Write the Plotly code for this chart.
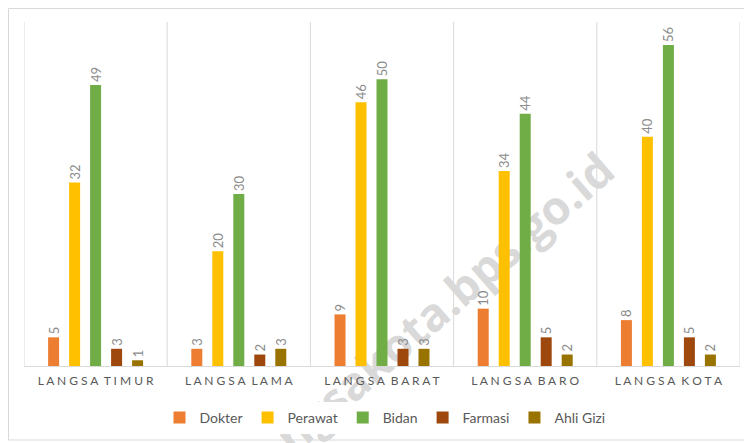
import plotly.graph_objects as go

categories = ["LANGSA TIMUR", "LANGSA LAMA", "LANGSA BARAT", "LANGSA BARO", "LANGSA KOTA"]
series_names = ["Dokter", "Perawat", "Bidan", "Farmasi", "Ahli Gizi"]
dokter = [5, 3, 9, 10, 8]
perawat = [32, 20, 46, 34, 40]
bidan = [49, 30, 50, 44, 56]
farmasi = [3, 2, 3, 5, 5]
ahli_gizi = [1, 3, 3, 2, 2]
colors = ["#ED7D31", "#FFC000", "#70AD47", "#9E480E", "#997300"]

values = [dokter, perawat, bidan, farmasi, ahli_gizi]
xpos = list(range(len(categories)))

def spaced(s):
    return " ".join(list(s)).replace("   ", "  ")

# plot area in figure pixels
L, T, W, H = 16, 14, 716, 344

def px(x):
    return (x - L) / W

def py(y):
    return (T + H - y) / H

fig = go.Figure()
for name, vals, col in zip(series_names, values, colors):
    fig.add_trace(go.Bar(
        x=xpos, y=vals, name=name, marker=dict(color=col, line=dict(width=0)),
        text=[str(v) for v in vals], textposition="outside", textangle=-90,
        constraintext="none", cliponaxis=False,
        textfont=dict(color="#8C8C8C", size=13, family="Lato"),
    ))

shapes = []
# watermark behind bars
shapes.append(dict(type="rect", xref="paper", yref="paper",
                   x0=px(412), x1=px(432), y0=py(320), y1=py(300),
                   line=dict(width=0), fillcolor="rgba(0,0,0,0)", layer="below",
                   label=dict(text="langsakota.bps.go.id", textangle=-41,
                              textposition="middle center",
                              font=dict(size=46, color="#D9D9D9", family="Open Sans",
                                        weight="bold"))))
for i in range(len(categories) + 1):
    shapes.append(dict(type="line", xref="x", yref="paper", x0=i - 0.5, x1=i - 0.5,
                       y0=0, y1=1, line=dict(color="#D9D9D9", width=1), layer="below"))
shapes.append(dict(type="rect", xref="paper", yref="paper", x0=px(0.5), x1=px(740),
                   y0=py(432), y1=py(0.5), line=dict(color="#D9D9D9", width=1)))

fig.update_layout(
    width=752, height=443,
    margin=dict(l=L, r=752 - L - W, t=T, b=443 - T - H),
    paper_bgcolor="white", plot_bgcolor="rgba(0,0,0,0)",
    barmode="group", bargap=0.267, bargroupgap=0.476,
    font=dict(family="Lato", color="#595959"),
    showlegend=True,
    legend=dict(orientation="h", x=px(377), xanchor="center", y=py(410), yanchor="middle",
                font=dict(size=14, color="#595959"), itemwidth=30, tracegroupgap=0),
    xaxis=dict(range=[-0.5, 4.5], tickvals=xpos, ticktext=[spaced(c) for c in categories],
               showgrid=False, zeroline=False, showline=True, linecolor="#D9D9D9",
               tickfont=dict(size=12, color="#595959"), ticks="", ticklabelstandoff=4),
    yaxis=dict(range=[0, 60], visible=False, showgrid=False, zeroline=False),
    shapes=shapes,
)

fig.write_html("out.html")
